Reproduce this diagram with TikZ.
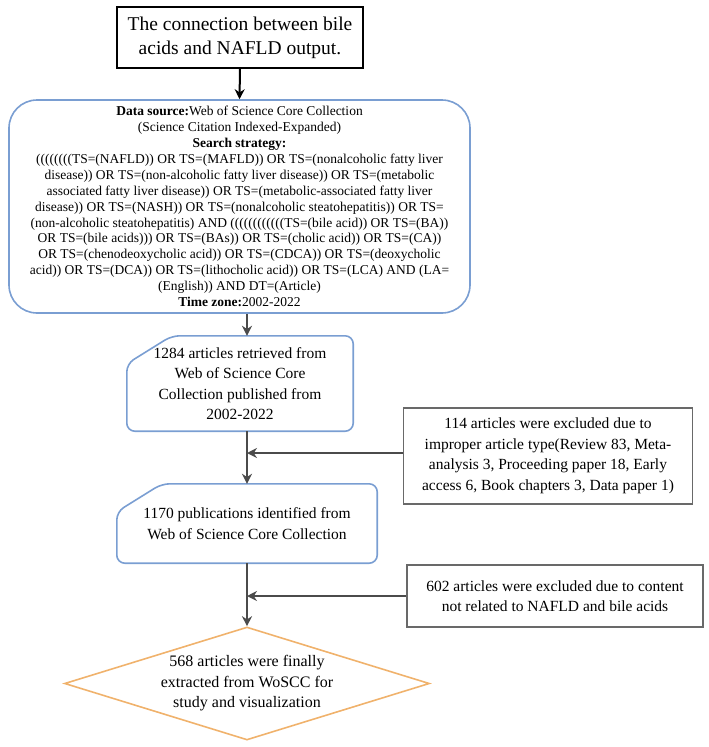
\documentclass[tikz,border=0pt]{standalone}
\usepackage{fontspec}
\setmainfont{Liberation Serif}
\usepackage{tikz}
\usetikzlibrary{arrows.meta,shapes.geometric}
\definecolor{boxblue}{RGB}{122,158,210}
\definecolor{diaorange}{RGB}{240,178,108}
\definecolor{arrgray}{RGB}{75,75,75}
\definecolor{exgray}{RGB}{105,105,105}
\begin{document}
\begin{tikzpicture}[x=1pt,y=-1pt,
    txt/.style={align=center,font=\fontsize{15.5}{20.5}\selectfont,inner sep=0pt},
    exbox/.style={txt,draw=exgray,line width=1.6pt},
    arr/.style={draw=arrgray,line width=2pt,-{Stealth[length=10pt,width=10pt]}}]
    \useasboundingbox (0,0) rectangle (709,747);
    \node[draw,line width=2pt,minimum width=246pt,minimum height=61pt,align=center,font=\fontsize{19.5}{24}\selectfont,inner sep=0pt] (title) at (240,37.5) {The connection between bile\\acids and NAFLD output.};
    \node[draw=boxblue,line width=1.6pt,rounded corners=28pt,minimum width=461pt,minimum height=213pt,align=center,font=\fontsize{13.5}{15.9}\selectfont,inner sep=0pt] (source) at (239.5,206.5) {\textbf{Data source:}Web of Science Core Collection\\(Science Citation Indexed-Expanded)\\\textbf{Search strategy:}\\((((((((TS=(NAFLD)) OR TS=(MAFLD)) OR TS=(nonalcoholic fatty liver\\disease)) OR TS=(non-alcoholic fatty liver disease)) OR TS=(metabolic\\associated fatty liver disease)) OR TS=(metabolic-associated fatty liver\\disease)) OR TS=(NASH)) OR TS=(nonalcoholic steatohepatitis)) OR TS=\\(non-alcoholic steatohepatitis) AND ((((((((((((TS=(bile acid)) OR TS=(BA))\\OR TS=(bile acids))) OR TS=(BAs)) OR TS=(cholic acid)) OR TS=(CA))\\OR TS=(chenodeoxycholic acid)) OR TS=(CDCA)) OR TS=(deoxycholic\\acid)) OR TS=(DCA)) OR TS=(lithocholic acid)) OR TS=(LCA) AND (LA=\\(English)) AND DT=(Article)\\\textbf{Time zone:}2002-2022};
    \node[txt,minimum width=226pt,minimum height=95pt] (retrieved) at (240,383.5) {1284 articles retrieved from\\Web of Science Core\\Collection published from\\2002-2022};
    \node[txt,minimum width=260pt,minimum height=79pt] (identified) at (247,523.5) {1170 publications identified from\\Web of Science Core Collection};
    \node[exbox,minimum width=289pt,minimum height=96pt] (typeout) at (548,456) {114 articles were excluded due to\\improper article type(Review 83, Meta-\\analysis 3, Proceeding paper 18, Early\\access 6, Book chapters 3, Data paper 1)};
    \node[exbox,minimum width=296pt,minimum height=62pt] (contentout) at (555,596) {602 articles were excluded due to content\\not related to NAFLD and bile acids};
    \node[draw=diaorange,line width=1.6pt,diamond,minimum width=365pt,minimum height=113pt,inner sep=0pt] (final) at (247,683.5) {};
    \node[txt,font=\fontsize{16}{20.5}\selectfont] (finaltext) at (final) {568 articles were finally\\extracted from WoSCC for\\study and visualization};
    \foreach \nm in {retrieved,identified}
        \draw[draw=boxblue,line width=1.6pt,rounded corners=8pt] ([yshift=-28pt]\nm.north west) -- ([xshift=45pt]\nm.north west) -- (\nm.north east) -- (\nm.south east) -- (\nm.south west) -- cycle;
    \coordinate (typein) at (247,453);
    \coordinate (contentin) at (247,596);
    \draw[arr,draw=black] (title.south) -- (source.north);
    \draw[arr] (source.south -| identified.north) -- (retrieved.north -| identified.north);
    \draw[arr] (retrieved.south -| identified.north) -- (identified.north);
    \draw[arr] (identified.south) -- (final.north);
    \draw[arr] (typeout.west |- typein) -- (typein);
    \draw[arr] (contentout.west) -- (contentin);
\end{tikzpicture}
\end{document}
